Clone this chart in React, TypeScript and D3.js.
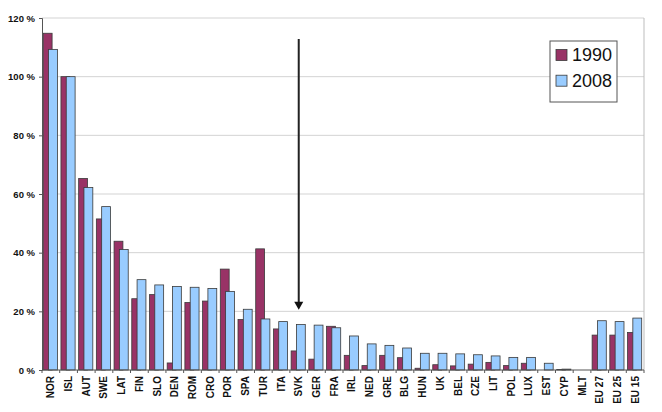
import React, { useEffect, useRef } from 'react';
import * as d3 from 'd3';

// Country codes, in chart order
const categories = [
  'NOR', 'ISL', 'AUT', 'SWE', 'LAT', 'FIN', 'SLO', 'DEN', 'ROM', 'CRO',
  'POR', 'SPA', 'TUR', 'ITA', 'SVK', 'GER', 'FRA', 'IRL', 'NED', 'GRE',
  'BLG', 'HUN', 'UK', 'BEL', 'CZE', 'LIT', 'POL', 'LUX', 'EST', 'CYP',
  'MLT', 'EU 27', 'EU 25', 'EU 15',
];

// Share in percent, 1990
const values1990 = [
  114.8, 100, 65.3, 51.5, 43.9, 24.3, 25.7, 2.4, 23, 23.5,
  34.4, 17.2, 41.3, 14, 6.5, 3.7, 14.9, 5, 1.5, 5,
  4.2, 0.6, 1.8, 1.4, 2, 2.6, 1.5, 2.3, 0, 0.2,
  0, 11.9, 11.9, 12.8,
];

// Share in percent, 2008
const values2008 = [
  109.3, 100, 62.2, 55.7, 41.1, 30.8, 29, 28.5, 28.2, 27.8,
  26.8, 20.7, 17.4, 16.5, 15.5, 15.3, 14.4, 11.6, 8.9, 8.4,
  7.5, 5.7, 5.7, 5.5, 5.2, 4.8, 4.3, 4.3, 2.3, 0.3,
  0, 16.8, 16.5, 17.7,
];

const yTicks = [0, 20, 40, 60, 80, 100, 120];
const seriesNames = ['1990', '2008'];
const seriesColors = ['#993366', '#99CCFF'];

// arrow marks SVK
const arrowCategory = 'SVK';
const arrowFrom = 112.8;
const arrowTo = 20.5;

const W = 662;
const H = 412;

export default function App() {
  const svgRef = useRef<SVGSVGElement>(null);

  useEffect(() => {
    if (!svgRef.current) return;
    const svg = d3.select(svgRef.current);
    svg.selectAll('*').remove();

    const left = 42;
    const right = 644;
    const top = 18;
    const bottom = 370;

    const x = d3.scaleBand().domain(categories).range([left, right]).padding(0);
    const y = d3.scaleLinear().domain([0, 120]).range([bottom, top]);
    const bw = x.bandwidth();
    const barW = bw * 0.5;

    svg.append('rect').attr('width', W).attr('height', H).attr('fill', '#fff');

    // gridlines
    svg.append('g')
      .selectAll('line')
      .data(yTicks.filter(d => d > 0))
      .join('line')
      .attr('x1', left)
      .attr('x2', right)
      .attr('y1', d => y(d))
      .attr('y2', d => y(d))
      .attr('stroke', '#d3d3d3')
      .attr('stroke-width', 1);

    // right border of plot area
    svg.append('line')
      .attr('x1', right).attr('x2', right)
      .attr('y1', top).attr('y2', bottom)
      .attr('stroke', '#bdbdbd');

    // bars: 1990 behind, 2008 in front
    const series = [values1990, values2008];
    const offsets = [bw * 0.07, bw * 0.37];
    series.forEach((vals, s) => {
      svg.append('g')
        .selectAll('rect')
        .data(categories.map((c, i) => ({ c, v: vals[i] })).filter(d => d.v > 0))
        .join('rect')
        .attr('x', d => (x(d.c) as number) + offsets[s])
        .attr('y', d => y(d.v))
        .attr('width', barW)
        .attr('height', d => bottom - y(d.v))
        .attr('fill', seriesColors[s])
        .attr('stroke', '#3a3a3a')
        .attr('stroke-width', 0.8);
    });

    // y axis
    const yAxis = svg.append('g').attr('transform', `translate(${left},0)`)
      .call(d3.axisLeft(y).tickValues(yTicks).tickSize(3).tickPadding(4)
        .tickFormat(d => `${d} %`));
    yAxis.select('.domain').attr('stroke', '#555');
    yAxis.selectAll('.tick line').attr('stroke', '#555');
    yAxis.selectAll('text')
      .attr('font-family', 'Arial, Liberation Sans, sans-serif')
      .attr('font-size', 9.5)
      .attr('font-weight', 'bold')
      .attr('fill', '#111');

    // x axis
    const xAxis = svg.append('g').attr('transform', `translate(0,${bottom})`);
    xAxis.append('line')
      .attr('x1', left).attr('x2', right)
      .attr('stroke', '#555');
    xAxis.selectAll('line.tk')
      .data(d3.range(categories.length + 1))
      .join('line')
      .attr('class', 'tk')
      .attr('x1', i => left + i * bw)
      .attr('x2', i => left + i * bw)
      .attr('y1', 0)
      .attr('y2', 3)
      .attr('stroke', '#555');
    xAxis.selectAll('text')
      .data(categories)
      .join('text')
      .attr('transform', d => `translate(${(x(d) as number) + bw / 2 + 3.5},6) rotate(-90)`)
      .attr('text-anchor', 'end')
      .attr('font-family', 'Arial, Liberation Sans, sans-serif')
      .attr('font-size', 10)
      .attr('font-weight', 'bold')
      .attr('fill', '#111')
      .text(d => d);

    // arrow
    const ax = (x(arrowCategory) as number) + bw / 2;
    const tipY = y(arrowTo);
    svg.append('line')
      .attr('x1', ax).attr('x2', ax)
      .attr('y1', y(arrowFrom)).attr('y2', tipY - 6)
      .attr('stroke', '#222')
      .attr('stroke-width', 2);
    svg.append('path')
      .attr('d', `M${ax - 4.5},${tipY - 8}L${ax + 4.5},${tipY - 8}L${ax},${tipY}Z`)
      .attr('fill', '#111');

    // legend
    const lg = svg.append('g').attr('transform', 'translate(550,41)');
    lg.append('rect')
      .attr('width', 67).attr('height', 61)
      .attr('fill', '#fff')
      .attr('stroke', '#555');
    seriesNames.forEach((name, i) => {
      lg.append('rect')
        .attr('x', 6).attr('y', 8.5 + i * 25.7)
        .attr('width', 11).attr('height', 11)
        .attr('fill', seriesColors[i])
        .attr('stroke', '#3a3a3a')
        .attr('stroke-width', 0.8);
      lg.append('text')
        .attr('x', 22).attr('y', 20 + i * 25.7)
        .attr('font-family', 'Arial, Liberation Sans, sans-serif')
        .attr('font-size', 18)
        .attr('fill', '#111')
        .text(name);
    });
  }, []);

  return (
    <div style={{ position: 'fixed', left: 0, top: 0 }}>
      <svg ref={svgRef} width={W} height={H} style={{ display: 'block' }} />
    </div>
  );
}
